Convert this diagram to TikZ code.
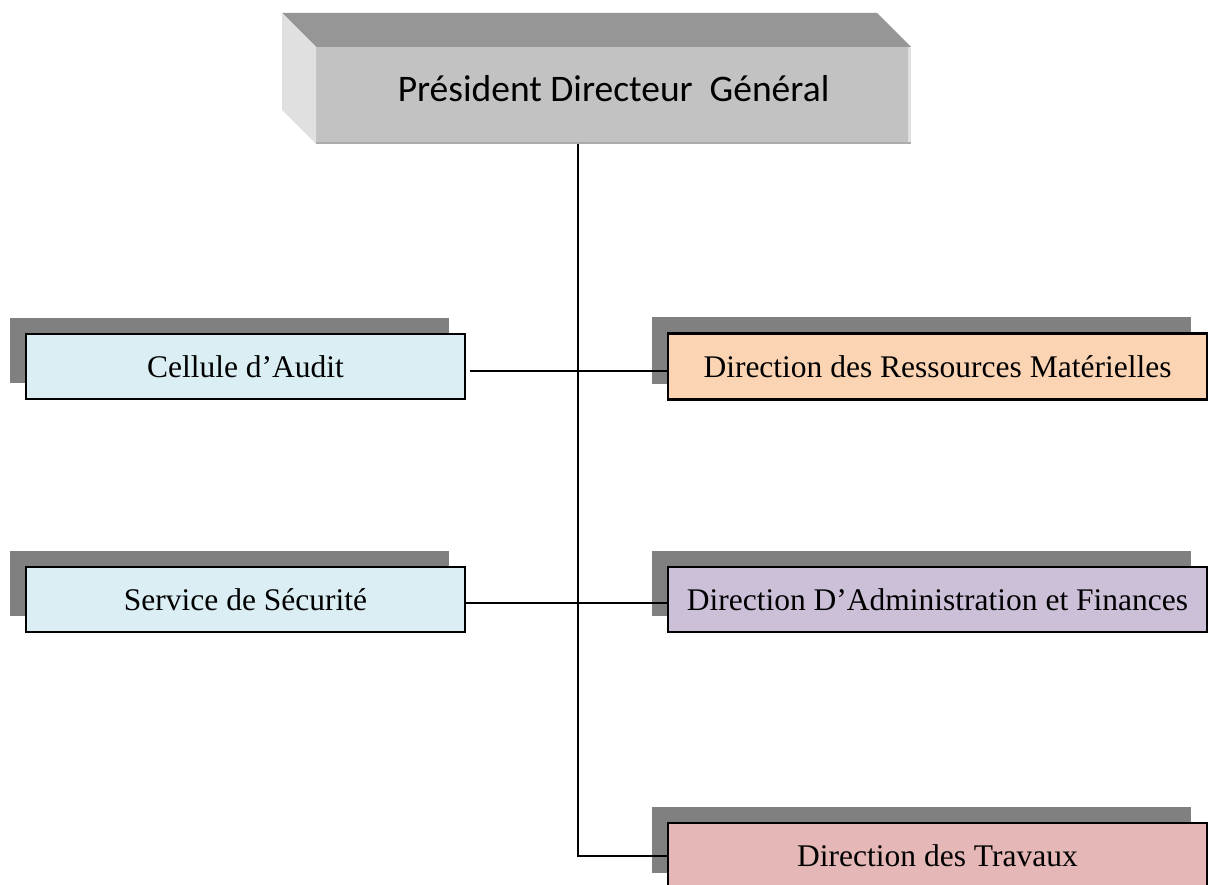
\documentclass[tikz,border=0pt]{standalone}
\usepackage{fontspec}
\setmainfont{Liberation Serif}
\newfontfamily\carl{Carlito}
\usetikzlibrary{calc,shadows}
\definecolor{celblue}{HTML}{DAEEF3}
\definecolor{peach}{HTML}{FBD4B4}
\definecolor{lav}{HTML}{CCC0D9}
\definecolor{pinkc}{HTML}{E5B8B7}
\definecolor{shgray}{HTML}{808080}
\definecolor{frontgray}{HTML}{C2C2C2}
\definecolor{topgray}{HTML}{969696}
\definecolor{leftgray}{HTML}{E0E0E0}
\definecolor{edgegray}{HTML}{ABABAB}
\tikzset{
  orgbox/.style={draw=black, line width=2.2pt, inner sep=0pt, outer sep=0pt,
    minimum height=65pt, font=\fontsize{31.5}{36}\selectfont,
    general shadow={fill=shgray, shadow xshift=-16pt, shadow yshift=16pt}},
  leftbox/.style={orgbox, fill=celblue, minimum width=439pt},
  rightbox/.style={orgbox, minimum width=539pt},
  link/.style={draw=black, line width=2pt},
  pdgface/.style={inner sep=0pt, outer sep=0pt, fill=frontgray, minimum width=595pt,
    minimum height=97pt}
}
\begin{document}
\begin{tikzpicture}[x=1pt,y=-1pt]
\useasboundingbox (0,0) rectangle (1210,885);
\clip (0,0) rectangle (1210,885);
% top 3D box
\node[pdgface] (pdg) at (613.5,95.5) {};
\fill[topgray] (pdg.north west) -- ++(-34,-34) -- ++(595,0) -- (pdg.north east) -- cycle;
\fill[leftgray] (pdg.north west) -- ++(-34,-34) -- ++(0,97) -- (pdg.south west) -- cycle;
\fill[leftgray] (pdg.north east) rectangle ++(-3,97);
\fill[edgegray] (pdg.south west) rectangle ++(595,-2);
\node[font=\carl\fontsize{37.5}{44}\selectfont, anchor=center] (pdgtext) at ([yshift=7pt]pdg.center) {Président Directeur\ \ Général};
% boxes
\node[leftbox] (cel) at (245.5,366.5) {Cellule d’Audit};
\node[leftbox] (sec) at (245.5,599.5) {Service de Sécurité};
\node[rightbox, fill=peach, minimum height=66pt] (drm) at (937.5,366.5) {Direction des Ressources Matérielles};
\node[rightbox, fill=lav] (daf) at (937.5,599.5) {Direction D’Administration et Finances};
\node[rightbox, fill=pinkc, minimum height=66pt] (trv) at (937.5,856) {Direction des Travaux};
% connectors
\draw[link] ([xshift=5pt,yshift=-4pt]cel.east) -- ([yshift=-4pt]drm.west);
\draw[link] ([yshift=-3pt]sec.east) -- ([yshift=-3pt]daf.west);
\draw[link] ([xshift=-35.5pt]pdg.south) |- (trv.west);
\end{tikzpicture}
\end{document}
